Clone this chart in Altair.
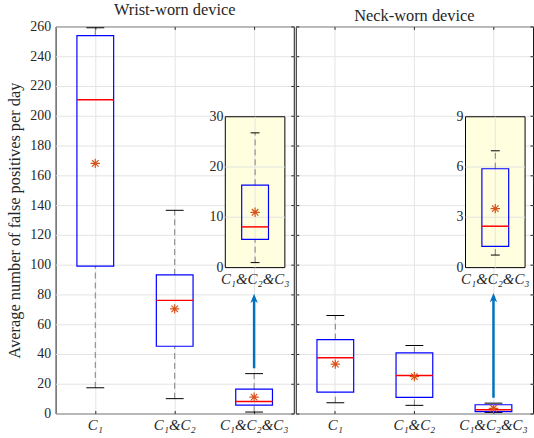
import altair as alt
import pandas as pd

# Condition sets compared in each panel
groups = ["C₁", "C₁&C₂", "C₁&C₂&C₃"]

# Wrist-worn device: false positives per day (box statistics)
wrist_low = [17.3, 10.0, 1.0]
wrist_q1 = [99.0, 45.2, 5.6]
wrist_median = [210.8, 76.0, 8.1]
wrist_mean = [168.0, 70.3, 11.0]
wrist_q3 = [253.8, 93.1, 16.4]
wrist_high = [259.1, 136.5, 26.8]

# Neck-worn device: false positives per day (box statistics)
neck_low = [7.3, 5.5, 0.75]
neck_q1 = [14.4, 10.9, 1.27]
neck_median = [37.5, 25.5, 2.47]
neck_mean = [33.2, 24.8, 3.52]
neck_q3 = [49.7, 40.8, 5.9]
neck_high = [65.8, 45.7, 6.97]

main_ticks = list(range(0, 261, 20))
wrist_zoom_ticks = [0, 10, 20, 30]
neck_zoom_ticks = [0, 3, 6, 9]

# Arrow from the small box up to its magnified view (start, head)
wrist_arrow = [30.4, 77.2]
neck_arrow = [10.6, 77.7]

FONT = "Liberation Serif"
INK = "#262626"
GRID = "#e4e4e4"
WHISKER = "#7f7f7f"
BOX = "#0000FF"
MEDIAN = "#FF0000"
MEAN = "#D95319"
ARROW = "#0072BD"
ZOOM_BG = "#FFFFE0"

W_LEFT, W_RIGHT, H = 240, 239, 390
ZOOM_X = [171, 231]          # zoom box horizontal extent inside a panel
ZOOM_Y = [243, 91]           # zoom box vertical extent (bottom, top)

ASTERISK = "M0,-1L0,1M-1,0L1,0M-0.7,-0.7L0.7,0.7M-0.7,0.7L0.7,-0.7"
ARROW_HEAD = "M0,-1L0.75,0.9L0,0.4L-0.75,0.9Z"


def stats(low, q1, median, mean, q3, high):
    return pd.DataFrame({"group": groups, "low": low, "q1": q1, "median": median,
                         "mean": mean, "q3": q3, "high": high})


def box_layers(df, xscale, yscale, box_w, cap_w, axes):
    """Whiskers, caps, box, median and mean; axes[i] = (x_axis, y_axis) for layer i."""
    def ax(i):
        return axes[i] if i < len(axes) else (None, None)

    def enc(i, field):
        xa, ya = ax(i)
        return dict(x=alt.X("group:N", scale=xscale, axis=xa, title=None),
                    y=alt.Y(f"{field}:Q", scale=yscale, axis=ya, title=None))

    base = alt.Chart(df)
    return [
        base.mark_rule(color=WHISKER, strokeDash=[6, 4], strokeWidth=1)
            .encode(**enc(0, "low"), y2="q1"),
        base.mark_rule(color=WHISKER, strokeDash=[6, 4], strokeWidth=1)
            .encode(**enc(1, "q3"), y2="high"),
        base.mark_tick(size=cap_w, thickness=1, color="black", opacity=1).encode(**enc(2, "low")),
        base.mark_tick(size=cap_w, thickness=1, color="black", opacity=1).encode(**enc(3, "high")),
        base.mark_bar(size=box_w, fillOpacity=0, stroke=BOX, strokeWidth=1.2)
            .encode(**enc(4, "q1"), y2="q3"),
        base.mark_tick(size=box_w, thickness=1.5, color=MEDIAN, opacity=1).encode(**enc(5, "median")),
        base.mark_point(shape=ASTERISK, size=90, filled=False, color=MEAN, strokeWidth=1.2, opacity=1)
            .encode(**enc(6, "mean")),
    ]


def panel(df, zoom_ticks, arrow, width, title, show_labels):
    xs = alt.Scale(domain=groups, paddingInner=0, paddingOuter=0)
    ys = alt.Scale(domain=[0, 260], nice=False, zero=False)

    x_bottom = alt.Axis(orient="bottom", offset=-3, tickSize=3, tickColor=INK, domain=False,
                        grid=True, gridColor=GRID, labelFont=FONT, labelFontSize=15,
                        labelFontStyle="italic", labelColor=INK, labelPadding=4, labelAngle=0,
                        title=None)
    x_top = alt.Axis(orient="top", offset=-3, tickSize=3, tickColor=INK, domain=False,
                     grid=False, labels=False, title=None, minExtent=0)
    if show_labels:
        y_left = alt.Axis(orient="left", values=main_ticks, ticks=False, domain=False, grid=True,
                          gridColor=GRID, labelFont=FONT, labelFontSize=14, labelColor=INK,
                          labelPadding=5, title="Average number of false positives per day",
                          titleFont=FONT, titleFontSize=16.5, titleFontWeight="normal",
                          titleColor=INK, titlePadding=7)
    else:
        y_left = alt.Axis(orient="left", values=main_ticks, offset=-3, tickSize=3, tickColor=INK,
                          domain=False, grid=True, gridColor=GRID, labels=False, title=None,
                          minExtent=0)
    y_right = alt.Axis(orient="right", values=main_ticks, offset=-3, tickSize=3, tickColor=INK,
                       domain=False, grid=False, labels=False, title=None, minExtent=0)

    main_layers = box_layers(df, xs, ys, 37, 18, [(x_bottom, y_left), (x_top, y_right)])

    arrow_df = pd.DataFrame({"group": [groups[2]], "start": [arrow[0]], "end": [arrow[1]]})
    a = alt.Chart(arrow_df)
    main_layers += [
        a.mark_rule(color=ARROW, strokeWidth=2.5).encode(
            x=alt.X("group:N", scale=xs, axis=None),
            y=alt.Y("start:Q", scale=ys, axis=None), y2="end"),
        a.mark_point(shape=ARROW_HEAD, size=100, filled=True, color=ARROW, opacity=1).encode(
            x=alt.X("group:N", scale=xs, axis=None),
            y=alt.Y("end:Q", scale=ys, axis=None)),
    ]
    main = alt.layer(*main_layers).resolve_axis(x="independent", y="independent")

    # Magnified view of the last condition set, with its own scales
    zx = alt.Scale(domain=[groups[2]], range=ZOOM_X, paddingInner=0, paddingOuter=0)
    zy = alt.Scale(domain=[zoom_ticks[0], zoom_ticks[-1]], range=ZOOM_Y, nice=False, zero=False)

    def zx_enc(**kw):
        return alt.X("group:N", scale=zx, axis=None, **kw)

    def zy_enc(field):
        return alt.Y(f"{field}:Q", scale=zy, axis=None)

    frame_df = pd.DataFrame({"group": [groups[2]], "bottom": [zoom_ticks[0]], "top": [zoom_ticks[-1]]})
    grid_df = pd.DataFrame({"group": [groups[2]] * (len(zoom_ticks) - 2), "v": zoom_ticks[1:-1]})
    tick_df = pd.DataFrame({"group": [groups[2]] * len(zoom_ticks), "v": zoom_ticks,
                            "label": [str(t) for t in zoom_ticks]})
    zoom_layers = [
        alt.Chart(frame_df).mark_rect(fill=ZOOM_BG, stroke="black", strokeWidth=1).encode(
            x=zx_enc(), y=zy_enc("bottom"), y2="top"),
        alt.Chart(grid_df).mark_tick(size=ZOOM_X[1] - ZOOM_X[0], thickness=1, color=GRID,
                                     opacity=1).encode(x=zx_enc(), y=zy_enc("v")),
        alt.Chart(frame_df).mark_rule(color=GRID, strokeWidth=1).encode(
            x=zx_enc(), y=zy_enc("bottom"), y2="top"),
        # tick labels of the magnified view
        alt.Chart(tick_df).mark_text(align="right", baseline="middle", dx=-2, font=FONT,
                                     fontSize=14, color=INK).encode(
            x=zx_enc(bandPosition=0), y=zy_enc("v"), text="label:N"),
        alt.Chart(frame_df).mark_text(align="center", baseline="top", dy=5, font=FONT,
                                      fontSize=15, fontStyle="italic", color=INK).encode(
            x=zx_enc(), y=zy_enc("bottom"), text="group:N"),
    ]
    zoom_df = df.iloc[[2]]
    zoom_layers += box_layers(zoom_df, zx, zy, 27, 9, [])
    zoom = alt.layer(*zoom_layers)

    return alt.layer(main, zoom).resolve_scale(x="independent", y="independent").resolve_axis(
        x="independent", y="independent").properties(
        width=width, height=H,
        title=alt.TitleParams(title, font=FONT, fontSize=16.5, fontWeight="normal", color=INK,
                              anchor="middle", offset=1))


left = panel(stats(wrist_low, wrist_q1, wrist_median, wrist_mean, wrist_q3, wrist_high),
             wrist_zoom_ticks, wrist_arrow, W_LEFT, "Wrist-worn device", True)
right = panel(stats(neck_low, neck_q1, neck_median, neck_mean, neck_q3, neck_high),
              neck_zoom_ticks, neck_arrow, W_RIGHT, "Neck-worn device", False)

chart = alt.hconcat(left, right, spacing=0).properties(
    background="white",
    padding={"left": 6, "top": 0, "right": 0, "bottom": 0}
).configure_view(stroke="#1a1a1a", strokeWidth=1).configure_axis(
    labelFont=FONT, titleFont=FONT
)

chart.save("out.html", embed_options={"renderer": "svg", "actions": False})
